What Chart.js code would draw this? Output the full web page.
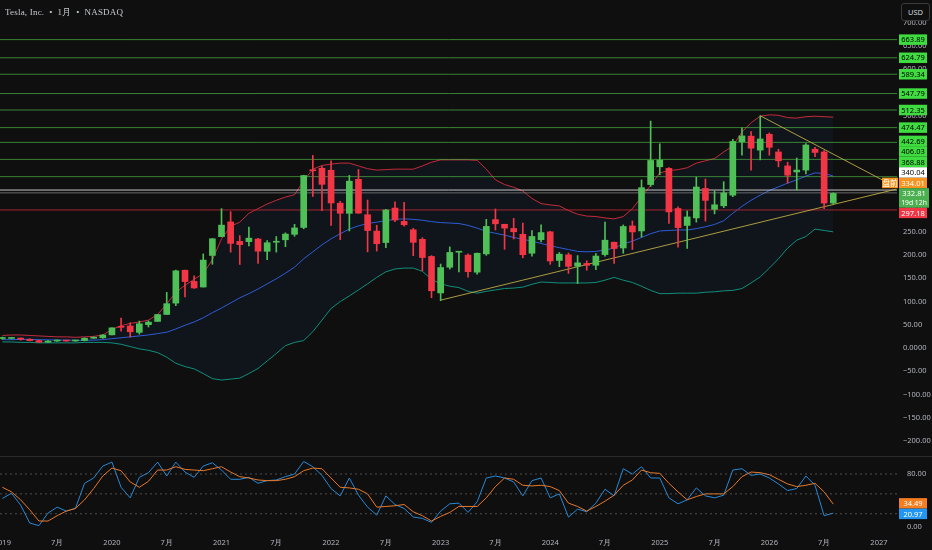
<!DOCTYPE html>
<html><head><meta charset="utf-8">
<script src="https://cdn.jsdelivr.net/npm/chart.js@4.4.1/dist/chart.umd.min.js"></script>
<style>
html,body{margin:0;padding:0;background:#0f0f0f;overflow:hidden}
#wrap{position:relative;width:932px;height:550px;background:#0f0f0f}
#top{position:absolute;left:0;top:0}
#bot{position:absolute;left:0;top:457px}
#sep{position:absolute;left:0;top:456px;width:932px;height:1px;background:#2a2a2a}
#title{position:absolute;left:5px;top:6px;font:9px "Liberation Serif",serif;color:#c8cad0;white-space:pre;letter-spacing:0.2px}
#usd{position:absolute;left:901px;top:3px;width:27px;height:16px;border:1px solid #3a3a3a;border-radius:3px;font:7.5px "Noto Sans",sans-serif;color:#d1d4dc;text-align:center;line-height:16px;background:#0f0f0f}
</style></head>
<body>
<div id="wrap">
<canvas id="top" width="932" height="457"></canvas>
<canvas id="bot" width="932" height="93"></canvas>
<div id="sep"></div>
<div id="title">Tesla, Inc.  •  1月  •  NASDAQ</div>
<div id="usd">USD</div>
</div>
<script>
// ---- monthly candles, index 0 = Jan 2019 ----
const openP  = [20.4,20.6,21.3,18.9,15.9,12.4,15.0,16.1,15.1,16.1,21.0,22.0,
  28.3,44.9,47.4,33.6,50.3,57.2,72.2,96.6,167.4,143.3,131.3,199.2,
  239.8,271.4,229.5,229.0,234.6,208.2,227.7,233.0,244.7,259.5,381.7,386.9,
  382.6,311.7,289.9,363.1,286.9,251.7,227.0,301.3,272.6,254.5,234.0,197.1,
  118.5,173.9,206.2,199.9,163.2,202.6,276.5,266.3,257.3,244.8,204.0,233.1,
  250.1,188.5,200.5,176.2,182.0,178.1,201.1,227.7,215.3,262.7,252.0,351.8,
  390.1,386.7,300.3,263.8,280.0,343.5,298.5,306.2,329.0,444.0,456.0,426.0,
  460.0,422.0,392.0,379.0,383.0,428.0,422.0,312.0];
const highP  = [23.5,22.8,21.6,19.7,17.0,15.9,17.2,16.4,16.6,22.0,24.1,29.0,
  43.5,64.6,54.2,57.9,58.4,72.5,119.7,167.5,167.5,155.3,202.6,235.7,
  300.1,293.5,241.9,260.3,236.3,231.3,240.0,248.0,266.3,371.7,414.5,390.9,
  402.7,315.7,371.6,384.3,318.5,264.2,298.3,314.7,313.8,257.5,237.4,198.9,
  180.7,217.7,207.8,202.7,204.5,277.0,299.3,266.5,279.0,268.9,252.8,265.1,
  251.3,205.6,204.5,198.9,187.8,203.2,271.0,228.2,264.9,273.5,361.9,488.5,
  439.7,388.4,303.9,294.9,367.7,363.7,338.0,358.0,449.0,474.0,466.0,500.0,
  463.0,428.0,400.0,409.0,440.0,432.0,425.0,334.0];
const lowP   = [18.6,19.6,16.8,15.3,12.2,11.8,14.2,14.1,14.3,15.1,20.6,20.7,
  28.1,36.3,23.4,29.8,45.2,57.0,72.1,91.0,110.0,128.0,131.1,180.3,
  239.1,206.3,179.8,219.8,182.3,190.0,206.4,218.0,240.4,256.6,326.2,295.4,
  264.0,233.3,252.0,290.1,206.9,208.7,216.2,271.8,262.5,198.6,166.2,108.2,
  101.8,169.9,163.9,152.4,158.8,199.4,254.1,212.4,234.6,194.1,197.9,228.2,
  180.1,175.0,160.5,138.8,167.4,168.5,197.9,182.0,204.0,212.1,238.9,348.0,
  373.0,268.0,217.0,214.3,271.0,273.2,288.8,302.0,326.0,415.0,383.0,405.0,
  415.0,390.0,355.0,340.0,375.0,412.0,300.0,310.0];
const closeP = [20.5,21.3,18.7,15.9,12.3,14.9,16.1,15.0,16.1,21.0,22.0,27.9,
  43.4,44.5,34.9,52.1,55.7,72.0,95.4,166.1,143.0,129.3,189.2,235.2,
  264.5,225.2,222.6,236.5,208.4,226.6,229.1,245.2,258.5,371.3,381.6,352.3,
  312.2,290.1,359.2,290.3,252.8,224.5,297.1,275.6,265.3,227.5,194.7,123.2,
  173.2,205.7,207.5,164.3,203.9,261.8,267.4,258.1,250.2,200.8,240.1,248.5,
  187.3,201.9,175.8,183.3,178.1,197.9,232.1,214.1,261.6,249.9,345.2,403.8,
  404.6,293.0,259.2,282.2,346.5,317.7,308.3,333.9,444.7,456.6,430.2,450.0,
  432.0,403.0,372.0,383.0,437.0,421.0,312.0,332.81];

// ---- Bollinger bands ----
const bbUpper = [27,28,28,27,26,25,24,24,23,24,25,28,
  40,48,53,56,60,72,95,120,135,148,160,190,
  235,262,271,290,300,310,318,325,330,360,385,393,
  396,398,398,392,386,383,384,385,385,385,392,400,
  405,405,405,405,404,385,362,352,346,338,322,311,
  308,306,296,288,284,283,280,278,283,300,325,350,
  377,382,384,388,398,403,408,422,435,465,485,499,
  502,501,496,495,498,499,498,497];
const bbMiddle = [18,18,18.5,18.5,18,17.5,17,17,16.5,16.5,17,18,
  20,22,24,26,28,31,34,41,49,56,65,76,
  86,97,108,117,127,138,149,161,174,192,207,222,
  235,246,256,263,268,271,274,277,278,277,275,272,
  270,269,268,264,258,251,247,243,238,234,230,225,
  220,216,212,208,207,208,211,215,224,230,238,246,
  252,253,254,254,257,261,266,274,290,305,318,329,
  339,347,355,362,370,377,376,370];
const bbLower = [13,13,12,12,11,11,11,11,11,12,12,12,
  11,8,3,-2,-5,-10,-20,-33,-40,-45,-55,-66,
  -69,-67,-65,-55,-44,-28,-12,5,12,16,35,60,
  85,100,112,125,138,152,164,170,172,172,165,148,
  138,133,130,122,118,122,125,128,129,131,137,142,
  141,140,140,140,140,141,146,152,146,141,133,124,
  117,117,118,118,118,120,121,123,124,128,140,153,
  172,192,215,232,240,256,253,250];

// ---- Stochastic RSI ----
const stochK = [43,51,33,6,2,21,30,24,28,66,74,92,
  98,60,44,75,82,98,77,98,83,75,92,97,
  86,72,72,75,66,70,71,76,80,99,91,78,
  58,47,74,48,30,18,47,34,28,15,13,7,
  24,35,36,22,38,74,77,74,68,47,70,74,
  44,50,15,27,23,36,57,47,88,80,91,74,
  74,44,35,41,59,47,44,48,86,88,78,80,
  74,65,55,58,77,63,17,20.97];
const stochD = [60,53,41,26,9,9,17,24,28,41,58,77,
  89,85,68,60,69,86,86,91,87,86,85,88,
  91,83,76,74,71,70,70,72,76,85,89,88,
  74,60,59,57,50,30,31,32,34,23,17,9,
  16,22,31,31,31,44,61,74,72,63,62,63,
  61,55,36,31,24,31,39,48,63,71,86,82,
  81,66,53,41,46,50,50,50,61,76,83,82,
  79,72,65,61,63,66,53,34.49];
const stochBands = [20,50,80];

// ---- drawn levels & trendlines ----
const greenLevels = [663.89,624.79,589.34,547.79,512.35,474.47,442.69,406.03,368.88];
const whiteLevel = 340.04;
const preMarket = 334.01;
const redLevel = 297.18;
const countdown = '19d 12h';
const trendDown = [{x:83,y:500},{x:97.9,y:346}];
const trendUp   = [{x:48,y:103},{x:97.9,y:342}];

// ---- axis ticks ----
const yearLabel = i => (i % 12 === 0) ? String(2019 + i/12) : '7月';

const X_MIN = -0.26, X_MAX = 97.98;
const GREEN = '#4fbf57', RED = '#f23645';
const AXIS_TXT = '#b2b5be';
const FONT = '"Noto Sans", sans-serif';
const idx = closeP.map((_, i) => i);
const colors = idx.map(i => closeP[i] >= openP[i] ? GREEN : RED);
const pts = arr => idx.map(i => ({x:i, y:arr[i]}));
const hline = (v, color, w) => ({type:'line', data:[{x:X_MIN,y:v},{x:X_MAX,y:v}], borderColor:color, borderWidth:w||1, pointRadius:0, fill:false, order:8});

function rightAxisFit(s){ s.width = 35; s.paddingTop = 0; s.paddingBottom = 0; }
function bottomAxisFit(s){ s.height = 16; s.paddingLeft = 0; s.paddingRight = 0; }

const priceLabels = {
  id:'priceLabels',
  afterDraw(chart){
    const ctx = chart.ctx, s = chart.scales.y;
    const bx = 899, bw = 28, h = 10.5;
    const lastPrice = closeP[closeP.length-1];
    const ly = s.getPixelForValue(lastPrice);
    const aTop = ly - h/2, aBot = aTop + 19.5;
    const above = greenLevels.map(v => ({v, bg:'#3fdc3f', fg:'#000'}));
    above.push({v:whiteLevel, bg:'#ffffff', fg:'#000'});
    above.push({v:preMarket, bg:'#f7931e', fg:'#fff', tag:'盘前'});
    above.sort((a,b) => a.v - b.v);
    let prev = aTop;
    for (const b of above){ b.c = Math.min(s.getPixelForValue(b.v), prev - h/2); prev = b.c - h/2; }
    const below = [{v:redLevel, bg:RED, fg:'#fff'}];
    let pb = aBot;
    for (const b of below){ b.c = Math.max(s.getPixelForValue(b.v), pb + h/2); pb = b.c + h/2; }
    ctx.save();
    ctx.textAlign = 'center'; ctx.textBaseline = 'middle';
    for (const b of above.concat(below)){
      ctx.fillStyle = b.bg; ctx.fillRect(bx, b.c - h/2, bw, h);
      ctx.fillStyle = b.fg; ctx.font = '7.5px ' + FONT;
      ctx.fillText(b.v.toFixed(2), bx + bw/2, b.c + 0.5);
      if (b.tag){
        ctx.fillStyle = b.bg; ctx.fillRect(882, b.c - h/2, 16, h);
        ctx.fillStyle = '#fff'; ctx.font = '7.5px "Noto Sans CJK SC", sans-serif';
        ctx.fillText(b.tag, 890, b.c + 0.5);
      }
    }
    ctx.fillStyle = '#4caf50'; ctx.fillRect(bx, aTop, bw + 2, aBot - aTop);
    ctx.fillStyle = '#fff'; ctx.font = '7.5px ' + FONT;
    ctx.fillText(lastPrice.toFixed(2), bx + bw/2 + 1, ly + 0.5);
    ctx.font = '6.8px ' + FONT;
    ctx.fillText(countdown, bx + bw/2 + 1, ly + 9.5);
    ctx.restore();
  }
};

const oscLabels = {
  id:'oscLabels',
  afterDraw(chart){
    const ctx = chart.ctx, s = chart.scales.y;
    const bx = 899, bw = 28, h = 10.5;
    const kv = stochK[stochK.length-1], dv = stochD[stochD.length-1];
    let boxes = [{v:dv, bg:'#f57c1f'}, {v:kv, bg:'#2196f3'}].sort((a,b)=>b.v-a.v);
    boxes.forEach(b => b.c = s.getPixelForValue(b.v));
    if (boxes[1].c - boxes[0].c < h){
      const m = (boxes[0].c + boxes[1].c)/2;
      boxes[0].c = m - h/2; boxes[1].c = m + h/2;
    }
    ctx.save();
    ctx.textAlign = 'center'; ctx.textBaseline = 'middle';
    ctx.font = '7.5px ' + FONT;
    for (const b of boxes){
      ctx.fillStyle = b.bg; ctx.fillRect(bx, b.c - h/2, bw, h);
      ctx.fillStyle = '#fff'; ctx.fillText(b.v.toFixed(2), bx + bw/2, b.c + 0.5);
    }
    ctx.restore();
  }
};

Chart.defaults.font.family = FONT;

new Chart(document.getElementById('top'), {
  type:'bar',
  data:{ datasets:[
    {type:'line', data:pts(bbUpper), borderColor:'#c42b3c', borderWidth:1, pointRadius:0, fill:{target:2}, backgroundColor:'rgba(40,110,200,0.07)', order:10},
    {type:'line', data:pts(bbMiddle), borderColor:'#2f5bd8', borderWidth:1, pointRadius:0, fill:false, order:10},
    {type:'line', data:pts(bbLower), borderColor:'#10917a', borderWidth:1, pointRadius:0, fill:false, order:10},
    ...greenLevels.map(v => hline(v, 'rgba(80,190,70,0.65)')),
    hline(whiteLevel, 'rgba(230,230,230,0.85)'),
    hline(preMarket, 'rgba(140,140,140,0.7)'),
    hline(redLevel, 'rgba(200,40,55,0.8)'),
    {type:'line', data:trendDown, borderColor:'rgba(200,180,70,0.85)', borderWidth:1, pointRadius:0, fill:false, order:5},
    {type:'line', data:trendUp, borderColor:'rgba(200,180,70,0.85)', borderWidth:1, pointRadius:0, fill:false, order:5},
    {type:'bar', data:idx.map(i => ({x:i, y:[lowP[i], highP[i]]})), backgroundColor:colors, barThickness:1, grouped:false, order:2},
    {type:'bar', data:idx.map(i => ({x:i, y:[openP[i], closeP[i]]})), backgroundColor:colors, barThickness:6, minBarLength:1, grouped:false, order:1}
  ]},
  options:{
    responsive:false, animation:false, events:[],
    layout:{padding:0},
    plugins:{legend:{display:false}, tooltip:{enabled:false}},
    scales:{
      x:{type:'linear', min:X_MIN, max:X_MAX, display:false, offset:false},
      y:{position:'right', min:-234.7, max:749.2, afterFit:rightAxisFit,
         grid:{display:false, drawTicks:false}, border:{display:false},
         ticks:{stepSize:50, includeBounds:false, padding:6, color:AXIS_TXT, font:{size:7.5},
                callback:v => v === 0 ? '0.0000' : (v < 0 ? '−' + Math.abs(v).toFixed(2) : v.toFixed(2))}}
    }
  },
  plugins:[priceLabels]
});

new Chart(document.getElementById('bot'), {
  type:'line',
  data:{ datasets:[
    ...stochBands.map(v => ({data:[{x:X_MIN,y:v},{x:X_MAX,y:v}], borderColor:'rgba(120,120,120,0.6)', borderWidth:1, borderDash:[2,3], pointRadius:0, fill:false})),
    {data:pts(stochD), borderColor:'#e8782a', borderWidth:1, pointRadius:0, fill:false},
    {data:pts(stochK), borderColor:'#2689d8', borderWidth:1, pointRadius:0, fill:false}
  ]},
  options:{
    responsive:false, animation:false, events:[],
    layout:{padding:0},
    plugins:{legend:{display:false}, tooltip:{enabled:false}},
    scales:{
      x:{type:'linear', min:X_MIN, max:X_MAX, afterFit:bottomAxisFit,
         grid:{display:false, drawTicks:false}, border:{display:false},
         ticks:{stepSize:6, includeBounds:false, autoSkip:false, maxRotation:0, padding:4, color:AXIS_TXT, font:{size:7.5},
                callback:v => yearLabel(v)}},
      y:{position:'right', min:-10.6, max:105.7, afterFit:rightAxisFit,
         grid:{display:false, drawTicks:false}, border:{display:false},
         ticks:{stepSize:40, includeBounds:false, padding:10, color:AXIS_TXT, font:{size:7.5},
                callback:v => v === 80 ? '80.00' : (v === 0 ? '0.00' : '')}}
    }
  },
  plugins:[oscLabels]
});
</script>
</body></html>
